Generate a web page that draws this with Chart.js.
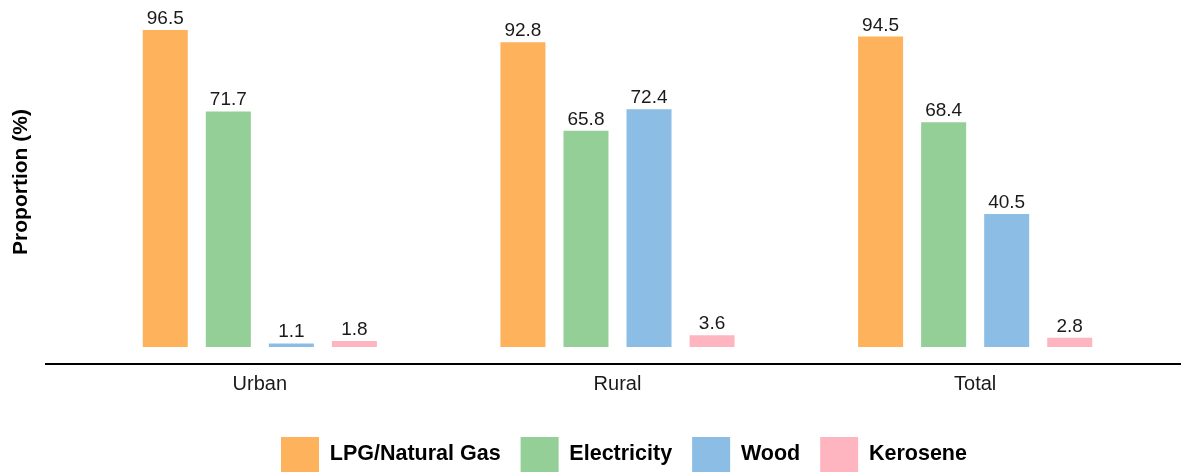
<!DOCTYPE html>
<html>
<head>
<meta charset="utf-8">
<script src="https://cdn.jsdelivr.net/npm/chart.js@4/dist/chart.umd.min.js"></script>
<style>
  html, body { margin: 0; padding: 0; background: #ffffff; }
  #wrap { width: 1181px; height: 472px; }
</style>
</head>
<body>
<div id="wrap"><canvas id="c" width="1181" height="472"></canvas></div>
<script>
// ---- data ----
const categories = ["Urban", "Rural", "Total"];
const seriesNames = ["LPG/Natural Gas", "Electricity", "Wood", "Kerosene"];
const lpgValues = [96.5, 92.8, 94.5];
const electricityValues = [71.7, 65.8, 68.4];
const woodValues = [1.1, 72.4, 40.5];
const keroseneValues = [1.8, 3.6, 2.8];
const seriesColors = ["#FDB25B", "#93CF96", "#8BBDE5", "#FFB5C0"];
const yTitle = "Proportion (%)";

const FONT = "'Liberation Sans', Arial, Helvetica, sans-serif";
const allValues = [lpgValues, electricityValues, woodValues, keroseneValues];

const datasets = seriesNames.map((name, i) => ({
  label: name,
  data: allValues[i],
  backgroundColor: seriesColors[i],
  borderWidth: 0,
  categoryPercentage: 0.705,
  barPercentage: 0.714
}));

const valueLabels = {
  id: 'valueLabels',
  afterDatasetsDraw(chart) {
    const ctx = chart.ctx;
    ctx.save();
    ctx.font = "19px " + FONT;
    ctx.fillStyle = "#1a1a1a";
    ctx.textAlign = "center";
    ctx.textBaseline = "alphabetic";
    chart.data.datasets.forEach((ds, di) => {
      const meta = chart.getDatasetMeta(di);
      meta.data.forEach((bar, i) => {
        ctx.fillText(ds.data[i].toFixed(1), bar.x, bar.y - 6);
      });
    });
    ctx.restore();
  }
};

const axisLine = {
  id: 'axisLine',
  afterDraw(chart) {
    const ctx = chart.ctx;
    const y = chart.chartArea.bottom;
    ctx.save();
    ctx.strokeStyle = "#000000";
    ctx.lineWidth = 2;
    ctx.beginPath();
    ctx.moveTo(45, y);
    ctx.lineTo(chart.width, y);
    ctx.stroke();
    ctx.restore();
  }
};

const legendPlace = {
  id: 'legendPlace',
  afterLayout(chart) {
    if (chart.legend) {
      chart.legend.left = 261;
      chart.legend.top += 10;
      chart.legend.bottom += 10;
    }
  }
};

new Chart(document.getElementById('c'), {
  type: 'bar',
  data: { labels: categories, datasets: datasets },
  plugins: [valueLabels, axisLine, legendPlace],
  options: {
    responsive: false,
    animation: false,
    layout: { padding: { left: 5, right: 27, top: 0, bottom: 0 } },
    plugins: {
      tooltip: { enabled: false },
      legend: {
        position: 'bottom',
        align: 'start',
        labels: {
          boxWidth: 38,
          boxHeight: 35,
          padding: 20,
          color: "#000000",
          font: { family: FONT, size: 21.5, weight: 'bold' }
        }
      }
    },
    scales: {
      x: {
        grid: { display: false, drawTicks: false },
        border: { display: false },
        ticks: { color: "#1a1a1a", padding: 8, font: { family: FONT, size: 20 } },
        afterFit(scale) { scale.height = 43; }
      },
      y: {
        min: -5.175,
        max: 105.63,
        grid: { display: false, drawTicks: false },
        border: { display: false },
        ticks: { display: false },
        title: {
          display: true,
          text: yTitle,
          color: "#000000",
          font: { family: FONT, size: 21, weight: 'bold' }
        },
        afterFit(scale) { scale.width = 76; }
      }
    }
  }
});
</script>
</body>
</html>
